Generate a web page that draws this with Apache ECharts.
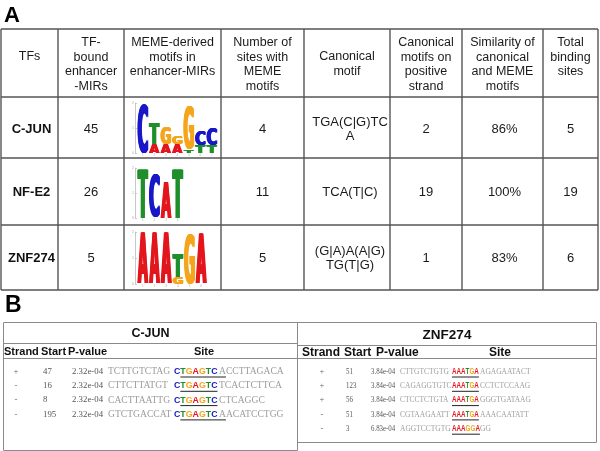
<!DOCTYPE html>
<html>
<head>
<meta charset="utf-8">
<script src="https://cdn.jsdelivr.net/npm/echarts@6/dist/echarts.min.js"></script>
<style>
  html, body { margin: 0; padding: 0; background: #fff; }
  #chart { width: 600px; height: 451px; }
</style>
</head>
<body>
<div id="chart"></div>
<script>
// ---- panel A data ----
const headerLabels = [
  'TFs',
  'TF-\nbound\nenhancer\n-MIRs',
  'MEME-derived\nmotifs in\nenhancer-MIRs',
  'Number of\nsites with\nMEME\nmotifs',
  'Canonical\nmotif',
  'Canonical\nmotifs on\npositive\nstrand',
  'Similarity of\ncanonical\nand MEME\nmotifs',
  'Total\nbinding\nsites'
]
const tfNames = ['C-JUN', 'NF-E2', 'ZNF274']
const boundEnhancerMIRs = [45, 26, 5]
const memeSites = [4, 11, 5]
const canonicalMotifs = ['TGA(C|G)TC\nA', 'TCA(T|C)', '(G|A)A(A|G)\nTG(T|G)']
const positiveStrand = [2, 19, 1]
const similarity = ['86%', '100%', '83%']
const totalSites = [5, 19, 6]

// sequence logos: letters per position, bottom -> top, height in bits
const logoCJUN = [
  [['C', 1.97]],
  [['A', 0.37], ['T', 0.82]],
  [['A', 0.37], ['G', 0.71]],
  [['A', 0.37], ['G', 0.3]],
  [['T', 0.12], ['G', 1.72]],
  [['T', 0.3], ['C', 0.61]],
  [['T', 0.3], ['C', 0.68]]
]
const logoNFE2 = [
  [['T', 1.97]],
  [['C', 1.71]],
  [['A', 1.45]],
  [['T', 1.97]]
]
const logoZNF274 = [
  [['A', 1.98]],
  [['A', 1.98]],
  [['A', 1.98]],
  [['G', 0.26], ['T', 0.9]],
  [['G', 1.93]],
  [['A', 1.93]]
]
const logoTicks = ['0', '1', '2']

// ---- panel B data ----
const siteHeaders = ['Strand', 'Start', 'P-value', 'Site']
const cjunStrand = ['+', '-', '-', '-']
const cjunStart = ['47', '16', '8', '195']
const cjunPValue = ['2.32e-04', '2.32e-04', '2.32e-04', '2.32e-04']
const cjunLeft = ['TCTTGTCTAG', 'CTTCTTATGT', 'CACTTAATTG', 'GTCTGACCAT']
const cjunMotif = ['CTGAGTC', 'CTGAGTC', 'CTGAGTC', 'CTGAGTC']
const cjunRight = ['ACCTTAGACA', 'TCACTCTTCA', 'CTCAGGC', 'AACATCCTGG']
const cjunUnderline = ['TGAGTC A', 'TGAGTC', 'TGAGTC', 'TGAGTC A']

const znfStrand = ['+', '+', '+', '-', '-']
const znfStart = ['51', '123', '56', '51', '3']
const znfPValue = ['3.84e-04', '3.84e-04', '3.84e-04', '3.84e-04', '6.83e-04']
const znfLeft = ['CTTGTCTGTG', 'CAGAGGTGTC', 'CTCCTCTGTA', 'CGTAAGAATT', 'AGGTCCTGTG']
const znfMotif = ['AAATGA', 'AAATGA', 'AAATGA', 'AAATGA', 'AAAGGA']
const znfRight = ['AGAGAATACT', 'CCTCTCCAAG', 'GGGTGATAAG', 'AAACAATATT', 'GG']

// ---- layout / style ----
const SANS = '"Liberation Sans", Arial, Helvetica, sans-serif'
const SERIF = '"Liberation Serif", "Times New Roman", serif'
const baseColors = {A: '#e3161d', C: '#1818c8', G: '#f5a51c', T: '#1f8f2b'}

const colEdges = [1, 58, 124, 221, 304, 390, 462, 543, 598]
const rowEdges = [29, 97, 158, 225, 290]
const rowCenters = [129, 192, 258]
const headerFirstLine = [57, 43, 43, 43, 57, 43, 43, 43]

const mctx = document.createElement('canvas').getContext('2d')
const textWidth = (s, font) => { mctx.font = font; return mctx.measureText(s).width }

const LOGO_FONT = 'bold 100px "DejaVu Sans", ' + SANS
const glyph = {}
mctx.font = LOGO_FONT
mctx.textBaseline = 'middle'
mctx.textAlign = 'left'
'ACGT'.split('').forEach(ch => {
  const m = mctx.measureText(ch)
  glyph[ch] = {l: m.actualBoundingBoxLeft, r: m.actualBoundingBoxRight,
    a: m.actualBoundingBoxAscent, d: m.actualBoundingBoxDescent}
})

const els = []
const line = (x1, y1, x2, y2, color, w) => els.push({
  type: 'line', silent: true, shape: {x1, y1, x2, y2},
  style: {stroke: color, lineWidth: w}
})
const text = (x, y, str, font, fill, align, vAlign, lh, sx) => els.push({
  type: 'text', silent: true, x, y, scaleX: sx || 1,
  style: {text: str, font, fill, align: align || 'center', verticalAlign: vAlign || 'middle', lineHeight: lh}
})

// panel labels
text(4, 16, 'A', 'bold 22px ' + SANS, '#000', 'left')
text(5, 306, 'B', 'bold 23px ' + SANS, '#000', 'left')

// ---- table A grid ----
const gridA = '#555'
rowEdges.forEach(y => line(colEdges[0], y, colEdges[8], y, gridA, 1.4))
colEdges.forEach(x => line(x, rowEdges[0], x, rowEdges[4], gridA, 1.4))
const colCenter = i => (colEdges[i] + colEdges[i + 1]) / 2

const hFont = '12.5px ' + SANS
headerLabels.forEach((h, i) => text(colCenter(i), headerFirstLine[i] - 7.25, h, hFont, '#1a1a1a', 'center', 'top', 14.5))

const cellFont = '13px ' + SANS
tfNames.forEach((name, r) => {
  const y = rowCenters[r]
  text(colCenter(0) + 2, y, name, 'bold 13px ' + SANS, '#111')
  text(colCenter(1), y, String(boundEnhancerMIRs[r]), cellFont, '#1a1a1a')
  text(colCenter(3), y, String(memeSites[r]), cellFont, '#1a1a1a')
  text(colCenter(4) + 3, y, canonicalMotifs[r], cellFont, '#1a1a1a', 'center', 'middle', 14)
  text(colCenter(5), y, String(positiveStrand[r]), cellFont, '#1a1a1a')
  text(colCenter(6) + 2, y, similarity[r], cellFont, '#1a1a1a')
  text(colCenter(7), y, String(totalSites[r]), cellFont, '#1a1a1a')
})

// ---- table B ----
const gridB = '#8a8a8a'
function siteTable(cfg) {
  const {x0, x1, top, bottom, titleLine, headLine, title, titleFont, headFont, head, cols,
    strand, start, pval, left, motif, right, underline, seqFont, motifFont, numFont, sx} = cfg
  line(x0, top, x1, top, gridB, 1)
  line(x0, bottom, x1, bottom, gridB, 1)
  line(x0, top, x0, bottom, gridB, 1)
  line(x1, top, x1, bottom, gridB, 1)
  line(x0, titleLine, x1, titleLine, gridB, 1)
  line(x0, headLine, x1, headLine, gridB, 1)
  text((x0 + x1) / 2, (top + titleLine) / 2 + 1, title, titleFont, '#111')
  siteHeaders.forEach((h, i) => text(head[i], (titleLine + headLine) / 2 + 1, h, headFont, '#111', i < 3 ? 'left' : 'center'))
  const rowY = i => headLine + 13 + i * 14.3
  strand.forEach((s, i) => {
    const y = rowY(i)
    text(cols.strand, y, s, numFont, '#666')
    text(cols.start, y, start[i], numFont, '#555', 'left', 'middle', null, sx.num)
    text(cols.pval, y, pval[i], numFont, '#555', 'left', 'middle', null, sx.num)
    text(cols.left, y, left[i], seqFont, '#9c9c9c', 'left', 'middle', null, sx.seq)
    let x = cols.motif
    motif[i].split('').forEach(ch => {
      text(x, y, ch, motifFont, baseColors[ch], 'left', 'middle', null, sx.motif)
      x += textWidth(ch, motifFont) * sx.motif
    })
    text(cols.right, y, right[i], seqFont, '#9c9c9c', 'left', 'middle', null, sx.seq)
    // underline of the canonical part
    const u = underline ? underline[i] : motif[i]
    const skip = underline ? textWidth(motif[i][0], motifFont) * sx.motif : 0
    let ux2 = x
    if (u.indexOf(' ') >= 0) ux2 = cols.right + textWidth(u.split(' ')[1], seqFont) * sx.seq
    line(cols.motif + skip, y + 5.5, ux2, y + 5.5, '#222', 1)
  })
}

siteTable({
  x0: 3.5, x1: 297.5, top: 322.5, bottom: 450.5, titleLine: 343.5, headLine: 358.5,
  title: 'C-JUN', titleFont: 'bold 12.5px ' + SANS, headFont: 'bold 11px ' + SANS,
  head: [4, 41, 68, 204],
  cols: {strand: 16, start: 43, pval: 72, left: 108, motif: 174, right: 219},
  strand: cjunStrand, start: cjunStart, pval: cjunPValue, left: cjunLeft,
  motif: cjunMotif, right: cjunRight, underline: cjunUnderline,
  seqFont: '9.6px ' + SERIF, motifFont: 'bold 8.8px ' + SANS, numFont: '8.8px ' + SERIF,
  sx: {num: 1, seq: 1, motif: 1}
})
siteTable({
  x0: 297.5, x1: 596.5, top: 322.5, bottom: 442.5, titleLine: 345.5, headLine: 358.5,
  title: 'ZNF274', titleFont: 'bold 13.5px ' + SANS, headFont: 'bold 12px ' + SANS,
  head: [302, 344, 376, 500],
  cols: {strand: 322, start: 346, pval: 371, left: 400, motif: 452, right: 480},
  strand: znfStrand, start: znfStart, pval: znfPValue, left: znfLeft,
  motif: znfMotif, right: znfRight, underline: null,
  seqFont: '9px ' + SERIF, motifFont: 'bold 8.4px ' + SANS, numFont: '8.6px ' + SERIF,
  sx: {num: 0.8, seq: 0.83, motif: 0.75}
})

// ---- sequence logos through grids ----
const logos = [logoCJUN, logoNFE2, logoZNF274]
const logoGrids = [
  {left: 137, top: 103, width: 80.5, height: 50},
  {left: 137, top: 168, width: 46.5, height: 50},
  {left: 137, top: 232, width: 70, height: 52}
]

function stackLogo(logo) {
  const out = []
  logo.forEach((col, p) => {
    let cum = 0
    col.forEach(([ch, h]) => {
      out.push([p, cum, cum + h, 'ACGT'.indexOf(ch)])
      cum += h
    })
  })
  return out
}

// a few horizontally shifted copies make the stretched glyphs heavier
const inkShift = [-0.8, -0.4, 0, 0.4, 0.8]
function renderLetter(params, api) {
  const idx = api.value(0)
  const lo = api.coord([idx, api.value(1)])
  const hi = api.coord([idx, api.value(2)])
  const bw = api.size([1, 0])[0]
  const ch = 'ACGT'[api.value(3)]
  const g = glyph[ch]
  const w = bw * 0.96 - 1.6
  const h = lo[1] - hi[1]
  if (h < 0.4) return
  const sx = w / (g.l + g.r)
  const sy = h / (g.a + g.d)
  return {
    type: 'group',
    children: inkShift.map(dx => ({
      type: 'text',
      x: lo[0] - w / 2 + g.l * sx + dx,
      y: hi[1] + g.a * sy,
      scaleX: sx,
      scaleY: sy,
      style: {text: ch, x: 0, y: 0, font: LOGO_FONT, fill: baseColors[ch], align: 'left', verticalAlign: 'middle'}
    }))
  }
}

const chart = echarts.init(document.getElementById('chart'), null, {renderer: 'canvas'})
chart.setOption({
  animation: false,
  backgroundColor: '#fff',
  grid: logoGrids,
  xAxis: logos.map((logo, i) => ({
    type: 'category', gridIndex: i,
    data: logo.map((c, p) => String(p + 1)),
    axisLine: {show: false}, axisTick: {show: false},
    axisLabel: {fontSize: 3, color: '#aaa', margin: 1, interval: 0}
  })),
  yAxis: logos.map((logo, i) => ({
    type: 'value', gridIndex: i, min: 0, max: 2, interval: 1, offset: 2,
    axisLine: {show: true, lineStyle: {color: '#bbb', width: 0.8}},
    axisTick: {show: true, inside: true, length: 2, lineStyle: {color: '#bbb', width: 0.8}},
    axisLabel: {fontSize: 3.5, color: '#aaa', margin: 1, formatter: v => logoTicks[v]},
    splitLine: {show: false}
  })),
  series: logos.map((logo, i) => ({
    type: 'custom', xAxisIndex: i, yAxisIndex: i, silent: true,
    encode: {x: 0, y: [1, 2]},
    renderItem: renderLetter,
    data: stackLogo(logo)
  })),
  graphic: els
})
</script>
</body>
</html>
